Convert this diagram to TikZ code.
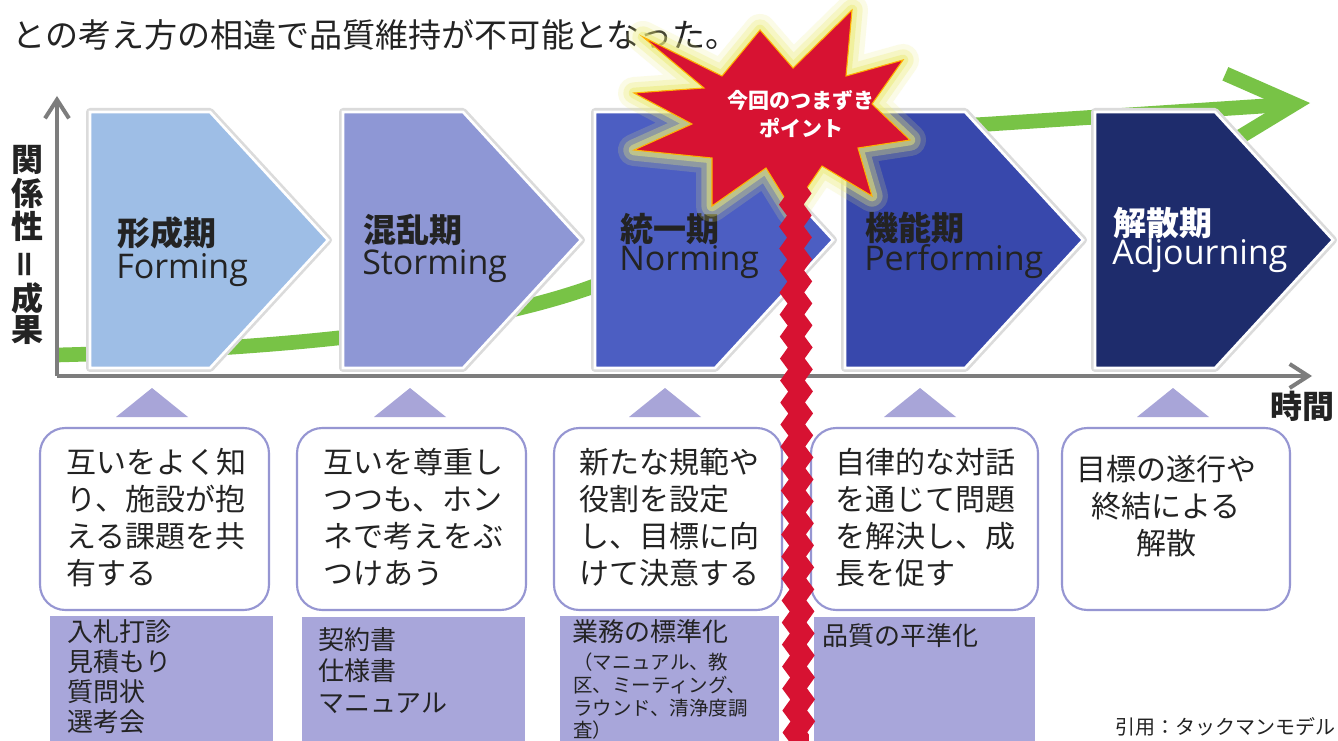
\documentclass[tikz,border=0pt]{standalone}
\usepackage{fontspec}
\setmainfont{Noto Sans CJK JP}
\newfontfamily\en{Open Sans}
\usetikzlibrary{arrows.meta,decorations.pathmorphing}
\definecolor{cA}{RGB}{158,190,230}
\definecolor{cB}{RGB}{142,151,213}
\definecolor{cC}{RGB}{76,94,194}
\definecolor{cD}{RGB}{56,72,172}
\definecolor{cE}{RGB}{30,44,108}
\definecolor{lav}{RGB}{168,165,216}
\definecolor{lavfill}{RGB}{168,166,218}
\definecolor{lavline}{RGB}{150,150,210}
\definecolor{grn}{RGB}{120,195,70}
\definecolor{axgray}{RGB}{125,125,125}
\definecolor{burst}{RGB}{215,18,50}
\definecolor{glow}{RGB}{236,236,120}
\definecolor{txt}{RGB}{35,35,35}
\tikzset{
  shadowline/.style={draw=gray!28, line width=6pt, line join=round},
  phase/.style={draw=white, line width=2pt, line join=miter},
  tri/.style={fill=lav, draw=none},
  rbox/.style={draw=lavline, line width=1.6pt, fill=white, rounded corners=19pt},
  lbox/.style={fill=lavfill, draw=none},
  jtitle/.style={anchor=west, inner sep=0, font=\fontsize{24.75}{28}\selectfont\bfseries, text=txt},
  etitle/.style={anchor=west, inner sep=0, font=\en\fontsize{25.5}{28}\selectfont, text=txt},
  btxt/.style={anchor=north west, inner sep=0, align=left, text=txt, font=\fontsize{22.5}{27.75}\selectfont},
  ltxt/.style={anchor=north west, inner sep=0, align=left, text=txt, font=\fontsize{19.5}{22.5}\selectfont},
  axlab/.style={inner sep=0, font=\fontsize{24}{26}\selectfont\bfseries, text=txt},
  axis/.style={draw=axgray, line width=3pt, -{Straight Barb[length=14pt,width=18pt]}},
  glowline/.style={draw=glow, line join=round},
}
\begin{document}
\begin{tikzpicture}[x=0.75pt,y=-0.75pt]
\useasboundingbox (0,0) rectangle (1338,741);
\fill[white] (0,0) rectangle (1338,741);

% heading
\node[anchor=base west, inner sep=0, text=txt, font=\fontsize{24.8}{28}\selectfont] (head) at (12,48) {との考え方の相違で品質維持が不可能となった。};

% coordinates
\coordinate (O) at (57,376);
\coordinate (ytop) at (57,96);
\coordinate (xend) at (1312,376);
\coordinate (g0) at (57,355);
\coordinate (g1) at (583,290);
\coordinate (g2) at (840,142);
\coordinate (g3) at (990,124);
\coordinate (g4) at (1310,103);

% green growth arrow
\draw[draw=grn, line width=11pt, -{Straight Barb[length=50pt,width=52pt]}]
  (g0) .. controls (250,350) and (450,335) .. (g1)
       .. controls (690,254) and (760,165) .. (g2)
       .. controls (900,125) and (930,128) .. (g3) -- (g4);

% axes
\draw[axis] (O) -- (ytop);
\draw[axis] (O) -- (xend);

% phases
\foreach \x/\c in {90/cA,343/cB,595/cC,845/cD,1095/cE}{
  \draw[shadowline] (\x,112) -- (\x+120,112) -- (\x+238,240) -- (\x+120,368) -- (\x,368) -- cycle;
  \filldraw[phase, fill=\c] (\x,112) -- (\x+120,112) -- (\x+238,240) -- (\x+120,368) -- (\x,368) -- cycle;
}
\node[jtitle] (t1) at (117,233) {形成期};
\node[etitle] (e1) at (116,270) {Forming};
\node[jtitle] (t2) at (363,230) {混乱期};
\node[etitle] (e2) at (362,266) {Storming};
\node[jtitle] (t3) at (620,229) {統一期};
\node[etitle] (e3) at (619,262) {Norming};
\node[jtitle] (t4) at (865,228) {機能期};
\node[etitle] (e4) at (864,262) {Performing};
\node[jtitle, text=white] (t5) at (1113,223) {解散期};
\node[etitle, text=white] (e5) at (1112,256) {Adjourning};

% axis labels
\node[axlab] (y1) at (28,160) {関};
\node[axlab] (y2) at (28,193) {係};
\node[axlab] (y3) at (28,226) {性};
\node[axlab, rotate=90] (y4) at (28,265) {＝};
\node[axlab] (y5) at (28,298) {成};
\node[axlab] (y6) at (28,330) {果};
\node[axlab, anchor=east] (xl) at (1335,406) {時間};

% triangles
\foreach \cx in {152,410,665,920,1173}{
  \fill[tri] (\cx,388) -- (\cx+36,417) -- (\cx-36,417) -- cycle;
}

% rounded boxes
\draw[rbox] (40,428) rectangle (269,610);
\draw[rbox] (297,428) rectangle (526,610);
\draw[rbox] (554,428) rectangle (782,610);
\draw[rbox] (811,428) rectangle (1038,610);
\draw[rbox] (1062,428) rectangle (1290,610);
\node[btxt] (b1) at (66,448) {互いをよく知\\り、施設が抱\\える課題を共\\有する};
\node[btxt] (b2) at (323,448) {互いを尊重し\\つつも、ホン\\ネで考えをぶ\\つけあう};
\node[btxt] (b3) at (579,448) {新たな規範や\\役割を設定\\し、目標に向\\けて決意する};
\node[btxt] (b4) at (835,448) {自律的な対話\\を通じて問題\\を解決し、成\\長を促す};
\node[btxt, anchor=north, align=center] (b5) at (1166,455) {目標の遂行や\\終結による\\解散};

% lower boxes
\fill[lbox] (50,616) rectangle (273,745);
\fill[lbox] (302,617) rectangle (525,745);
\fill[lbox] (560,616) rectangle (779,745);
\fill[lbox] (814,617) rectangle (1035,745);
\node[ltxt] (l1) at (67,619) {入札打診\\見積もり\\質問状\\選考会};
\node[ltxt, font=\fontsize{19.5}{23.6}\selectfont] (l2) at (318,627) {契約書\\仕様書\\マニュアル};
\node[ltxt] (l3) at (572,619) {業務の標準化};
\node[ltxt, font=\fontsize{14.6}{16.9}\selectfont] (l3b) at (573,653) {（マニュアル、教\\区、ミーティング、\\ラウンド、清浄度調\\査）};
\node[ltxt] (l4) at (822,623) {品質の平準化};

% footer
\node[anchor=east, inner sep=0, text=txt, font=\fontsize{15}{17}\selectfont] (cite) at (1336,727) {引用：タックマンモデル};

% starburst
\def\burstpath{(643,37) -- (722,76) -- (760,30) -- (793,68) -- (852,10) -- (846,76) -- (903,60) -- (872,104) -- (910,140) -- (858,148) -- (872,196) -- (822,166) -- (792,210) -- (766,168) -- (712,206) -- (712,158) -- (634,150) -- (692,124) -- (634,93) -- (704,88) -- cycle}
\draw[glowline, line width=24pt, opacity=0.18] \burstpath;
\draw[glowline, line width=16pt, opacity=0.3] \burstpath;
\draw[glowline, line width=8pt, opacity=0.5] \burstpath;
\filldraw[fill=burst, draw=orange!60!yellow, line width=0.8pt, line join=miter] \burstpath;
\node[align=center, inner sep=0, text=white, font=\fontsize{15.75}{21}\selectfont\bfseries] (pt) at (801,114) {今回のつまずき\\ポイント};

% zigzag crack
\coordinate (zt) at (795,166);
\coordinate (zb) at (799,748);
\draw[draw=burst, line width=15pt, line join=miter, decorate, decoration={zigzag, segment length=16.5pt, amplitude=3pt}] (zt) -- (zb);
\end{tikzpicture}
\end{document}
